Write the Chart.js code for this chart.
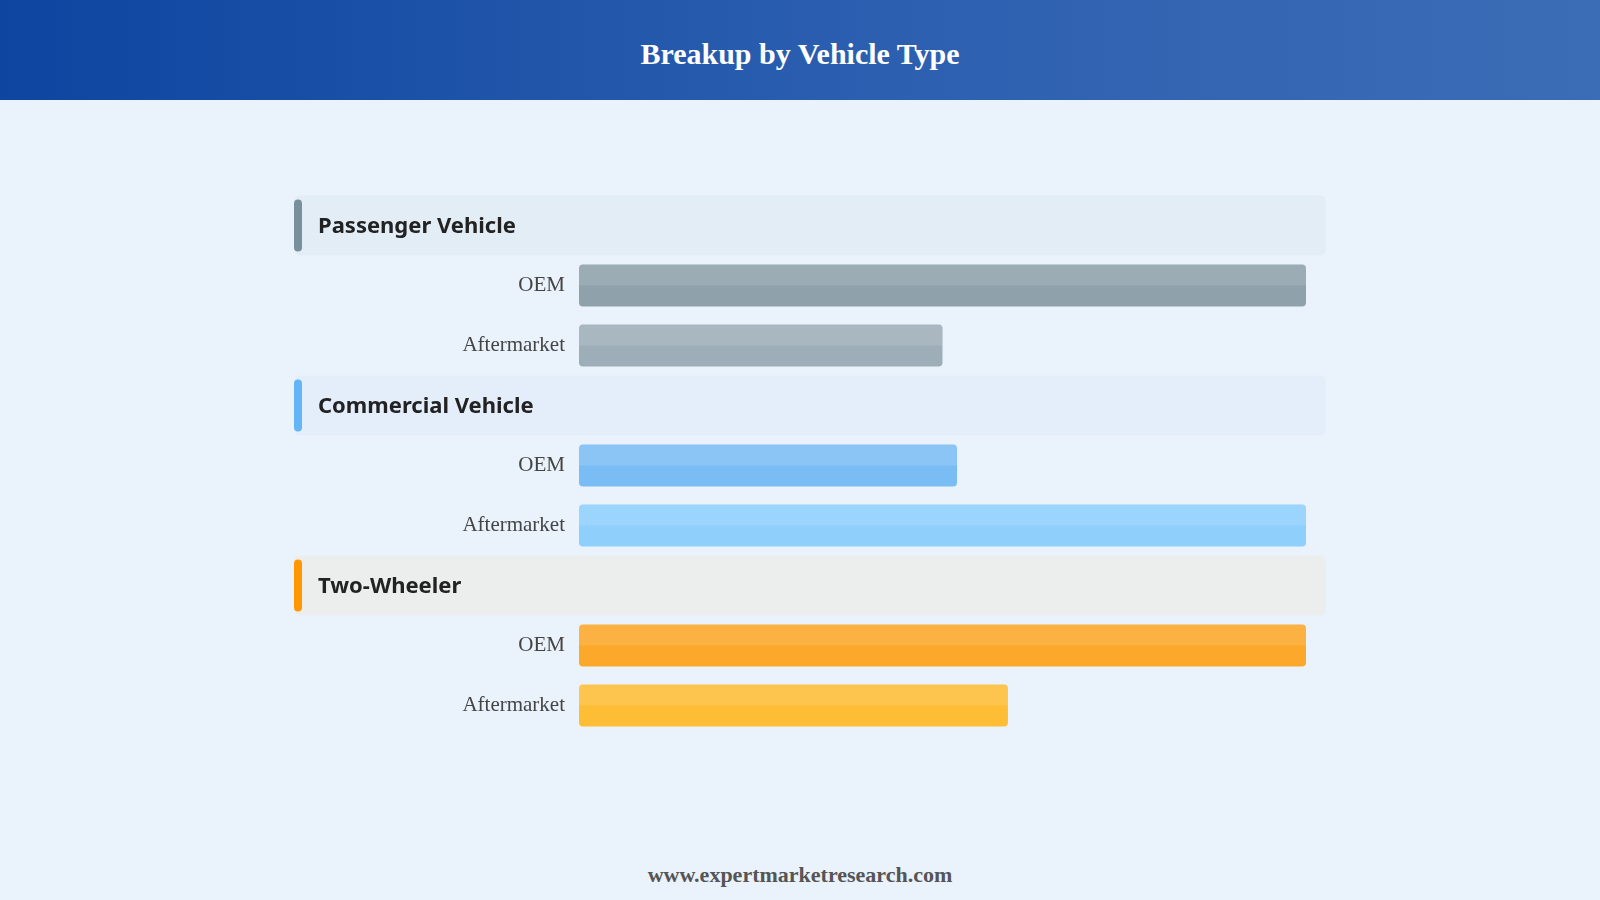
<!DOCTYPE html>
<html><head><meta charset="utf-8">
<script src="https://cdn.jsdelivr.net/npm/chart.js@4"></script>
<style>
html,body{margin:0;padding:0;width:1600px;height:900px;background:#eaf2fc;overflow:hidden}
#hdr{position:absolute;left:0;top:0;width:1600px;height:100px;background:linear-gradient(90deg,#0d45a0,#2c5fb0 55%,#3b6db6);color:#fff;font:bold 30px "Liberation Serif",serif;text-align:center;line-height:108px}
#wrap{position:absolute;left:294px;top:177px;width:1032px;height:577px}
#foot{position:absolute;left:0;top:862px;width:1600px;text-align:center;font:bold 22px "Liberation Serif",serif;color:#555}
</style></head><body>
<div id="hdr">Breakup by Vehicle Type</div>
<div id="wrap"><canvas id="c"></canvas></div>
<div id="foot">www.expertmarketresearch.com</div>
<script>
const groups = ['Passenger Vehicle','Commercial Vehicle','Two-Wheeler'];
const subTypes = ['OEM','Aftermarket'];
const passengerValues = [100, 50];
const commercialValues = [52, 100];
const twoWheelerValues = [100, 59];
const groupColors = ['#78909c','#64b5f6','#ff9800'];
const groupBands = ['#e2edf6','#e3eefa','#eceeed'];
const barColors = [['#8fa1ab','#9eaeb8'],['#7abdf4','#8ecffc'],['#fca82a','#fdbe36']];

const allVals=[passengerValues,commercialValues,twoWheelerValues];
const labels=[],data=[],colors=[],header=[];
groups.forEach((g,i)=>{
  labels.push(g);data.push(null);colors.push('rgba(0,0,0,0)');header.push(i);
  subTypes.forEach((s,j)=>{labels.push(s);data.push(allVals[i][j]);colors.push(barColors[i][j]);header.push(-1);});
});
const bandPlugin={id:'bands',beforeDatasetsDraw(ch){
  const ctx=ch.ctx,y=ch.scales.y;
  header.forEach((h,k)=>{if(h<0)return;const cy=y.getPixelForValue(k);
    ctx.save();ctx.fillStyle=groupBands[h];ctx.beginPath();ctx.roundRect(0,cy-30,ch.width,60,6);ctx.fill();
    ctx.fillStyle=groupColors[h];ctx.beginPath();ctx.roundRect(0,cy-26,8,52,4);ctx.fill();
    ctx.fillStyle='#222';ctx.font='bold 22px "Noto Sans", "Open Sans", sans-serif';ctx.textBaseline='middle';ctx.fillText(groups[h],24,cy+1);ctx.restore();});
},afterDatasetsDraw(ch){
  const ctx=ch.ctx;ch.getDatasetMeta(0).data.forEach((b,k)=>{if(data[k]==null)return;
    ctx.save();ctx.fillStyle='rgba(255,255,255,0.12)';ctx.beginPath();const h=b.height;
    ctx.roundRect(b.base,b.y-h/2,b.x-b.base,h/2,[4,4,0,0]);ctx.fill();ctx.restore();});
}};
new Chart(document.getElementById('c'),{type:'bar',
 data:{labels,datasets:[{data,backgroundColor:colors,borderRadius:4,borderSkipped:false,barPercentage:0.7,categoryPercentage:1}]},
 options:{indexAxis:'y',responsive:true,maintainAspectRatio:false,animation:false,
  layout:{padding:{right:20}},
  plugins:{legend:{display:false},tooltip:{enabled:false}},
  scales:{x:{display:false,min:0,max:100},
   y:{grid:{display:false},border:{display:false},afterFit(s){s.width=285;},
    ticks:{padding:6,color:'#444',font:{family:'"Liberation Serif", serif',size:21},callback:(v,i)=>header[i]>=0?'':labels[i]}}}},
 plugins:[bandPlugin]});
</script></body></html>
